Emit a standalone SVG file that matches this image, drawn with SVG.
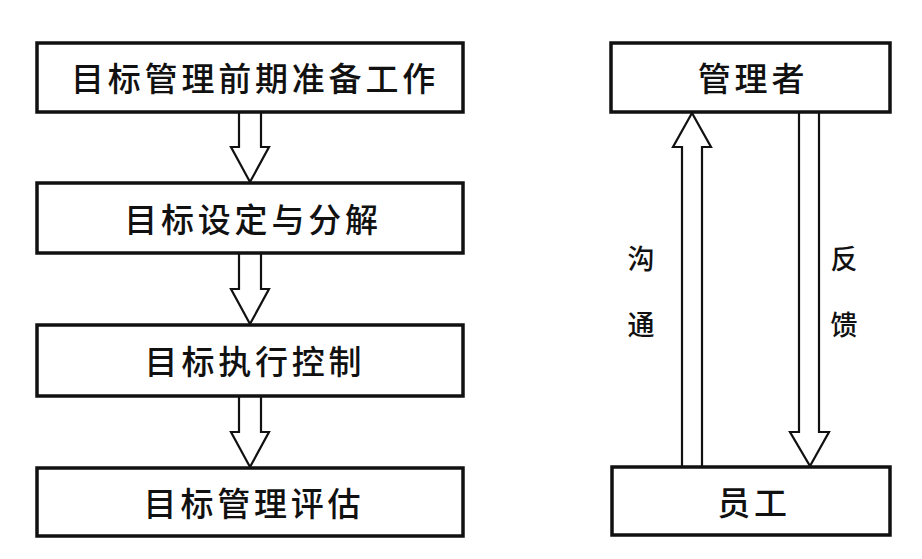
<svg xmlns="http://www.w3.org/2000/svg" width="922" height="559" viewBox="0 0 922 559">
<style>
.box{fill:#fff;stroke:#111;stroke-width:3.5}
.arr{fill:#fff;stroke:#111;stroke-width:2.2;stroke-linejoin:miter}
.t{font-family:"Noto Sans CJK SC","Noto Sans",sans-serif;font-size:33px;font-weight:500;fill:#111;text-anchor:middle;dominant-baseline:central;letter-spacing:3.8px}
.l{font-family:"Noto Sans CJK SC","Noto Sans",sans-serif;font-size:27px;font-weight:500;fill:#111;text-anchor:middle;dominant-baseline:central}
</style>
<rect width="922" height="559" fill="#fff"/>
<g id="connectors">
<polygon class="arr" points="239,112 261,112 261,147 269,147 250,182 231,147 239,147"/>
<polygon class="arr" points="239,253 261,253 261,289 269,289 250,324 231,289 239,289"/>
<polygon class="arr" points="239,396 261,396 261,432 269,432 250,467 231,432 239,432"/>
<polygon class="arr" points="692,113 711,147 702,147 702,467 682,467 682,147 673,147"/>
<polygon class="arr" points="799,112 819,112 819,432 829,432 810,466 790,432 799,432"/>
<text class="l" x="641" y="257">沟</text>
<text class="l" x="641" y="323">通</text>
<text class="l" x="844" y="257">反</text>
<text class="l" x="844" y="323">馈</text>
</g>
<g id="n1"><rect class="box" x="37" y="43" width="426" height="69"/><text class="t" x="255" y="77">目标管理前期准备工作</text></g>
<g id="n2"><rect class="box" x="37" y="183" width="426" height="70"/><text class="t" x="253" y="218">目标设定与分解</text></g>
<g id="n3"><rect class="box" x="37" y="325" width="426" height="71"/><text class="t" x="255" y="360">目标执行控制</text></g>
<g id="n4"><rect class="box" x="37" y="468" width="426" height="68"/><text class="t" x="254" y="502">目标管理评估</text></g>
<g id="m1"><rect class="box" x="611" y="43" width="279" height="69"/><text class="t" x="753" y="77">管理者</text></g>
<g id="m2"><rect class="box" x="612" y="467" width="278" height="68"/><text class="t" x="754" y="501">员工</text></g>
</svg>
